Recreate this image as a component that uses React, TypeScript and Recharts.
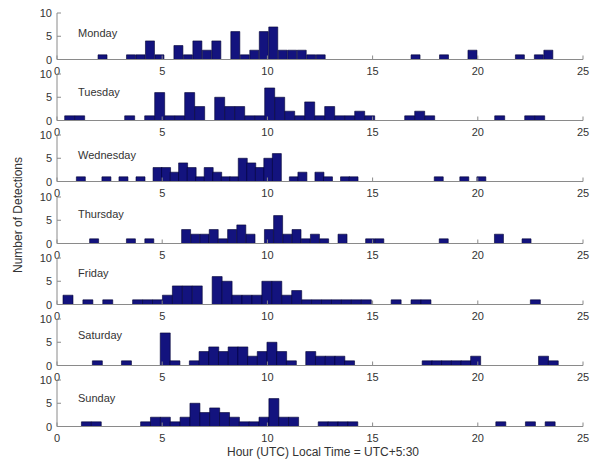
import React from 'react';
import { BarChart, Bar, XAxis, YAxis } from 'recharts';

// ---------- data ----------
const dayNames = ['Monday', 'Tuesday', 'Wednesday', 'Thursday', 'Friday', 'Saturday', 'Sunday'];

// each day's histogram: 48 bins spanning [binStart, binEnd] (hours UTC)
const binStart = [1.95, 0.365, 0.92, 1.55, 0.285, 1.68, 1.16];
const binEnd = [23.59, 23.18, 20.36, 22.54, 22.97, 23.81, 23.67];

const mondayCounts = [1, 0, 0, 1, 1, 4, 1, 0, 3, 1, 4, 2, 4, 0, 6, 1, 2, 6, 7, 2, 2, 2, 1, 1, 0, 0, 0, 0, 0, 0, 0, 0, 0, 1, 0, 0, 1, 0, 0, 2, 0, 0, 0, 0, 1, 0, 1, 2];
const tuesdayCounts = [1, 1, 0, 0, 0, 0, 1, 0, 1, 6, 1, 1, 6, 3, 0, 5, 3, 3, 1, 1, 7, 5, 2, 1, 4, 1, 3, 1, 1, 2, 1, 0, 0, 0, 1, 2, 1, 0, 0, 0, 0, 0, 0, 1, 0, 0, 1, 1];
const wednesdayCounts = [1, 0, 0, 1, 0, 1, 0, 1, 0, 3, 3, 2, 4, 3, 1, 3, 2, 1, 1, 5, 4, 3, 5, 6, 0, 1, 2, 0, 2, 1, 0, 1, 1, 0, 0, 0, 0, 0, 0, 0, 0, 0, 1, 0, 0, 1, 0, 1];
const thursdayCounts = [1, 0, 0, 0, 1, 0, 1, 0, 0, 0, 3, 2, 2, 3, 1, 3, 4, 2, 0, 3, 6, 2, 3, 1, 2, 1, 0, 2, 0, 0, 1, 1, 0, 0, 0, 0, 0, 0, 1, 0, 0, 0, 0, 0, 2, 0, 0, 1];
const fridayCounts = [2, 0, 1, 0, 1, 0, 0, 1, 1, 1, 2, 4, 4, 4, 0, 6, 5, 2, 2, 2, 5, 5, 2, 3, 1, 1, 1, 1, 1, 1, 1, 0, 0, 1, 0, 1, 1, 0, 0, 0, 0, 0, 0, 0, 0, 0, 0, 1];
const saturdayCounts = [1, 0, 0, 1, 0, 0, 0, 7, 1, 0, 1, 3, 4, 3, 4, 4, 2, 3, 5, 3, 1, 0, 3, 2, 2, 2, 1, 0, 0, 0, 0, 0, 0, 0, 1, 1, 1, 1, 1, 2, 0, 0, 0, 0, 0, 0, 2, 1];
const sundayCounts = [1, 1, 0, 0, 0, 0, 1, 2, 2, 1, 2, 5, 3, 4, 3, 2, 1, 1, 2, 6, 2, 2, 0, 0, 1, 1, 1, 1, 0, 0, 0, 0, 0, 0, 0, 0, 0, 0, 0, 0, 0, 0, 1, 0, 0, 1, 0, 1];

const dayCounts = [mondayCounts, tuesdayCounts, wednesdayCounts, thursdayCounts, fridayCounts, saturdayCounts, sundayCounts];

const xTicks = [0, 5, 10, 15, 20, 25];
const yTicks = [0, 5, 10];

// day label offsets (px from panel top)
const labelTop = [14, 12, 14, 11, 9, 10, 12];

// ---------- layout / style ----------
const W = 590;
const H = 462;
const PLOT_LEFT = 57;
const PLOT_RIGHT = 583;
const FIRST_TOP = 13;
const STEP = 61.2;
const PLOT_H = 46.5;
const M_TOP = 6;
const X_AXIS_H = 22;
const Y_AXIS_W = 30;

const FONT = '"Liberation Sans", Arial, Helvetica, sans-serif';
const TEXT = '#333333';
const BOX = '#8a8a8a';
const BAR_FILL = '#13137e';
const BAR_EDGE = '#000033';

function buildBins(counts: number[], start: number, end: number) {
  const w = (end - start) / counts.length;
  return counts.map((c, i) => ({ hour: start + w * (i + 0.5), count: c }));
}

const BottomTick = (props: any) => {
  const { x, y, payload } = props;
  return (
    <g>
      <line x1={x} x2={x} y1={y} y2={y - 4} stroke={BOX} strokeWidth={1} />
      <text x={x} y={y + 15} textAnchor="middle" fontSize={11} fill={TEXT} fontFamily={FONT}>
        {payload.value}
      </text>
    </g>
  );
};

const TopTick = (props: any) => {
  const { x, y } = props;
  return <line x1={x} x2={x} y1={y} y2={y + 4} stroke={BOX} strokeWidth={1} />;
};

const LeftTick = (props: any) => {
  const { x, y, payload } = props;
  return (
    <g>
      <line x1={x} x2={x + 4} y1={y} y2={y} stroke={BOX} strokeWidth={1} />
      <text x={x - 5} y={y + 4} textAnchor="end" fontSize={11} fill={TEXT} fontFamily={FONT}>
        {payload.value}
      </text>
    </g>
  );
};

const RightTick = (props: any) => {
  const { x, y } = props;
  return <line x1={x} x2={x - 4} y1={y} y2={y} stroke={BOX} strokeWidth={1} />;
};

function Panel({ index }: { index: number }) {
  const data = buildBins(dayCounts[index], binStart[index], binEnd[index]);
  const top = FIRST_TOP + index * STEP - M_TOP;
  return (
    <div style={{ position: 'absolute', left: 0, top, width: W, height: M_TOP + PLOT_H + X_AXIS_H }}>
      <BarChart
        width={W}
        height={M_TOP + PLOT_H + X_AXIS_H}
        data={data}
        margin={{ top: M_TOP, right: W - PLOT_RIGHT, bottom: 0, left: PLOT_LEFT - Y_AXIS_W }}
        barCategoryGap={0}
        barGap={0}
      >
        <XAxis
          xAxisId="bottom"
          dataKey="hour"
          type="number"
          domain={[0, 25]}
          ticks={xTicks}
          allowDataOverflow
          height={X_AXIS_H}
          tickSize={0}
          tickMargin={0}
          tickLine={false}
          axisLine={{ stroke: BOX }}
          tick={BottomTick}
          interval={0}
        />
        <XAxis
          xAxisId="top"
          orientation="top"
          dataKey="hour"
          type="number"
          domain={[0, 25]}
          ticks={xTicks}
          allowDataOverflow
          height={0}
          tickSize={0}
          tickMargin={0}
          tickLine={false}
          axisLine={{ stroke: BOX }}
          tick={TopTick}
          interval={0}
        />
        <YAxis
          yAxisId="left"
          type="number"
          domain={[0, 10]}
          ticks={yTicks}
          allowDataOverflow
          width={Y_AXIS_W}
          tickSize={0}
          tickMargin={0}
          tickLine={false}
          axisLine={{ stroke: BOX }}
          tick={LeftTick}
          interval={0}
        />
        <YAxis
          yAxisId="right"
          orientation="right"
          type="number"
          domain={[0, 10]}
          ticks={yTicks}
          allowDataOverflow
          width={0}
          tickSize={0}
          tickMargin={0}
          tickLine={false}
          axisLine={{ stroke: BOX }}
          tick={RightTick}
          interval={0}
        />
        <Bar
          xAxisId="bottom"
          yAxisId="left"
          dataKey="count"
          fill={BAR_FILL}
          stroke={BAR_EDGE}
          strokeWidth={0.6}
          isAnimationActive={false}
        />
      </BarChart>
      <div
        style={{
          position: 'absolute',
          left: 78,
          top: M_TOP + labelTop[index],
          fontSize: 11,
          fontFamily: FONT,
          color: TEXT,
          lineHeight: '12px',
          whiteSpace: 'nowrap',
        }}
      >
        {dayNames[index]}
      </div>
    </div>
  );
}

export default function App() {
  return (
    <div
      style={{
        position: 'absolute',
        left: 0,
        top: 0,
        width: W,
        height: H,
        background: '#ffffff',
        overflow: 'hidden',
        fontFamily: FONT,
      }}
    >
      {dayNames.map((_, i) => (
        <Panel key={i} index={i} />
      ))}
      <div
        style={{
          position: 'absolute',
          left: 18 - 100,
          top: 215 - 8,
          width: 200,
          height: 16,
          textAlign: 'center',
          transform: 'rotate(-90deg)',
          fontSize: 12,
          lineHeight: '16px',
          color: TEXT,
          whiteSpace: 'nowrap',
        }}
      >
        Number of Detections
      </div>
      <div
        style={{
          position: 'absolute',
          left: 323 - 150,
          top: 444,
          width: 300,
          textAlign: 'center',
          fontSize: 12,
          lineHeight: '16px',
          color: TEXT,
          whiteSpace: 'nowrap',
        }}
      >
        Hour (UTC) Local Time = UTC+5:30
      </div>
    </div>
  );
}
